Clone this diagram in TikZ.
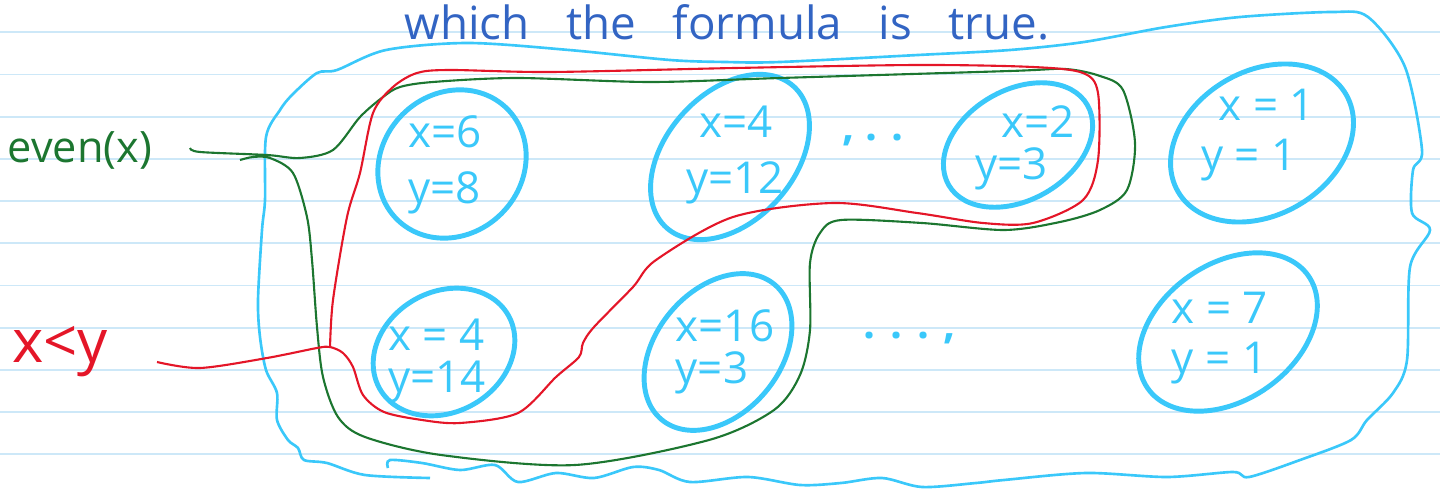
\documentclass[tikz,border=0pt]{standalone}
\usepackage{fontspec}
\setmainfont{Open Sans}
\usepackage{tikz}
\usetikzlibrary{shapes.geometric}

\definecolor{ruleblue}{RGB}{205,232,248}
\definecolor{skyb}{RGB}{58,200,250}
\definecolor{penred}{RGB}{228,22,40}
\definecolor{pengreen}{RGB}{28,118,48}
\definecolor{penblue}{RGB}{50,100,195}

\begin{document}
\begin{tikzpicture}[x=0.01cm, y=-0.01cm,
    oval/.style={ellipse, draw=skyb, line width=1.4pt, inner sep=0pt},
    vals/.style={text=skyb, align=left, font=\fontsize{12.5}{12}\selectfont},
    hand/.style={line width=0.6pt}]
    \useasboundingbox (0,0) rectangle (1440,491);

    % ruled paper
    \foreach \k in {0,...,10}
        \draw[ruleblue, line width=0.55pt] (0,{32.3+42.2*\k}) -- (1440,{32.3+42.2*\k});

    % title
    \node[text=penblue, font=\fontsize{13}{16}\selectfont] (title) at (727,22)
        {which\hspace{0.8em}the\hspace{0.8em}formula\hspace{0.8em}is\hspace{0.8em}true.};

    % the domain of all assignments
    \draw[skyb, line width=0.75pt] plot[smooth, tension=0.5] coordinates {
        (430,478) (365,475) (327,463) (304,460) (298,448) (288,440) (277,420)
        (277,393) (266,370) (260,337) (258,300) (262,230) (265,200) (266,137)
        (280,110) (292,95) (317,73) (337,70) (386,50) (468,43) (569,50)
        (670,60) (725,62) (780,62) (918,55) (1010,50) (1084,42) (1166,27)
        (1240,17) (1332,12) (1368,17) (1405,67) (1422,150) (1413,170)
        (1412,213) (1430,230) (1410,267) (1407,360) (1393,393) (1367,420)
        (1351,440) (1300,460) (1249,477) (1233,472) (1167,477) (1086,473)
        (1004,480) (976,483) (922,487) (882,478) (841,483) (800,485)
        (748,477) (690,482) (659,470) (633,467) (594,478) (556,473)
        (518,482) (495,465) (460,470) (422,463) (390,460) (388,468)};

    % assignments
    \node[oval, minimum width=1.56cm, minimum height=1.40cm, rotate=45] (e1) at (452,164) {};
    \node[oval, minimum width=1.90cm, minimum height=1.28cm, rotate=48] (e2) at (730,157) {};
    \node[oval, minimum width=1.60cm, minimum height=1.10cm, rotate=30] (e3) at (1018,145) {};
    \node[oval, minimum width=1.94cm, minimum height=1.44cm, rotate=30] (e4) at (1262,143) {};
    \node[oval, minimum width=1.48cm, minimum height=1.20cm, rotate=30] (e5) at (444,352) {};
    \node[oval, minimum width=1.76cm, minimum height=1.24cm, rotate=50] (e6) at (718,352) {};
    \node[oval, minimum width=1.96cm, minimum height=1.36cm, rotate=35] (e8) at (1228,332) {};

    \node[vals] (v1) at (445,165) {x=6\\[4pt]y=8};
    \node[vals] (v2) at (735,155) {\hspace*{0.3em}x=4\\[4pt]y=12};
    \node[vals] (v3) at (1025,148) {\hspace*{0.6em}x=2\\y=3};
    \node[vals] (v4) at (1258,135) {\hspace*{0.4em}x = 1\\[2pt]y = 1};
    \node[vals] (v5) at (437,361) {x = 4\\y=14};
    \node[vals] (v6) at (725,352) {x=16\\y=3};
    \node[vals] (v8) at (1220,338) {x = 7\\[2pt]y = 1};

    \node[text=skyb, font=\bfseries\fontsize{12}{12}\selectfont] (dotsa) at (873,140) {, . .};
    \node[text=skyb, font=\bfseries\fontsize{12}{12}\selectfont] (dotsb) at (910,338) {. . . ,};

    % formulas
    \node[text=pengreen, font=\fontsize{12.3}{14}\selectfont] (even) at (80,150) {even(x)};
    \node[text=penred, font=\fontsize{17}{20}\selectfont] (less) at (60,352) {x<y};

    \draw[pengreen, hand] plot[smooth, tension=0.5] coordinates {
        (190,148) (200,152) (267,155) (300,158) (333,150) (360,117) (383,97)
        (400,87) (433,82) (517,78) (650,82) (780,78) (1010,71) (1065,69)
        (1100,76) (1123,90) (1135,143) (1127,190) (1100,210) (1060,222)
        (1004,230) (922,223) (841,220) (820,233) (810,263) (810,330)
        (800,375) (774,410) (709,440) (575,465) (441,455) (365,437)
        (338,417) (323,377) (317,327) (312,260) (307,217) (293,173)
        (270,158) (253,157) (240,160)};

    \draw[penred, hand] plot[smooth, tension=0.5] coordinates {
        (157,362) (200,368) (267,358) (317,348) (330,347) (343,353) (353,367)
        (363,395) (384,412) (422,420) (460,423) (518,413) (556,377) (579,357)
        (583,343) (594,327) (633,287) (656,260) (733,217) (833,203) (917,213)
        (983,223) (1033,223) (1083,200) (1098,160) (1098,93) (1083,73)
        (1033,67) (918,65) (735,68) (551,72) (450,70) (417,73) (393,87)
        (373,113) (360,173) (347,217) (333,300) (330,348)};

\end{tikzpicture}
\end{document}
